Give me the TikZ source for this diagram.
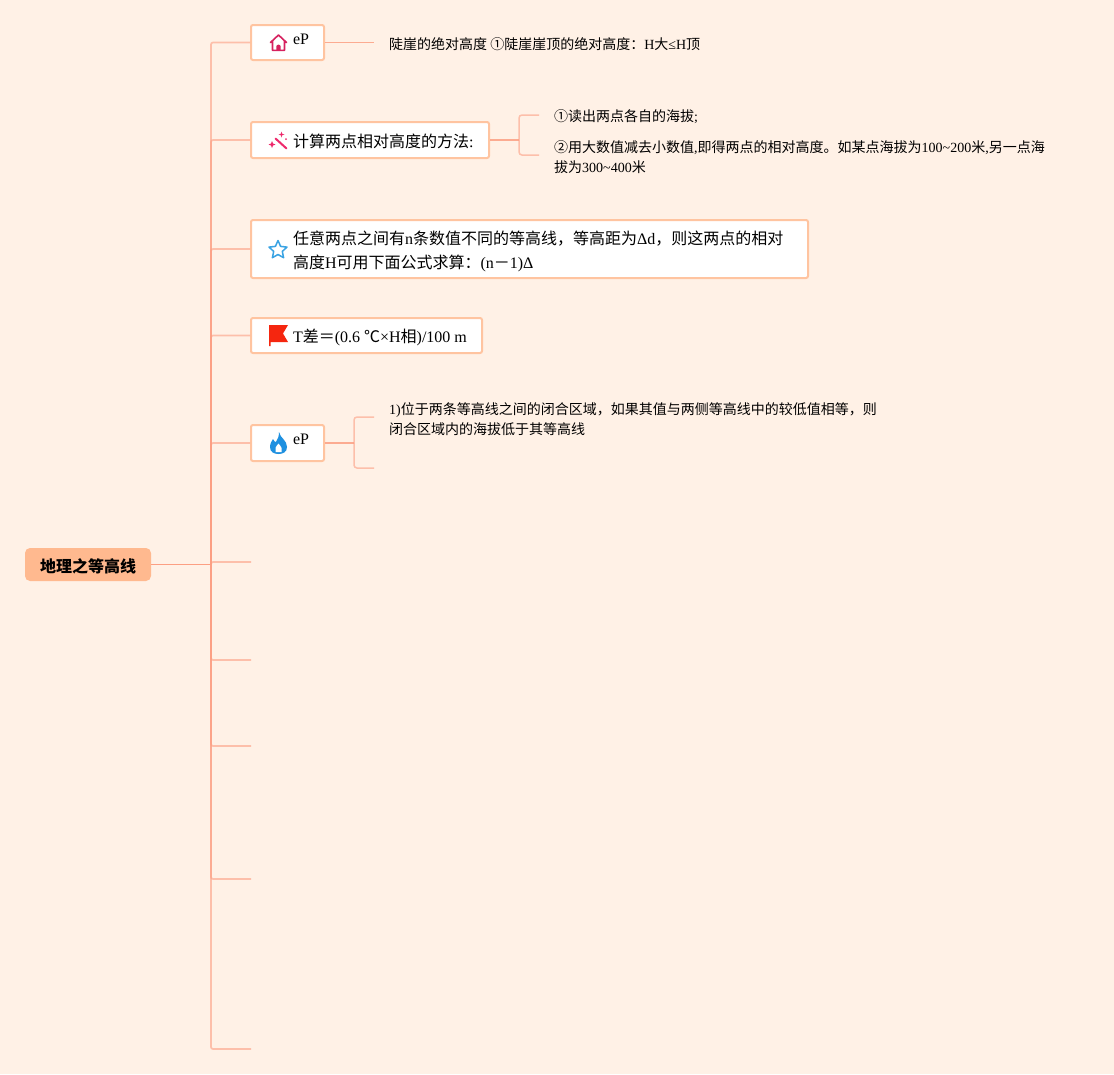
\documentclass[tikz,border=0pt]{standalone}
\usepackage{fontspec}
\setmainfont{Liberation Serif}
\newfontfamily\cjk{Noto Sans CJK SC}
\newcommand{\cn}[1]{{\cjk #1}}
\usepackage{tikz}
\usetikzlibrary{positioning}
\definecolor{pagebg}{HTML}{FFF1E6}
\definecolor{rootfill}{HTML}{FFB98F}
\definecolor{boxedge}{HTML}{FFC4A0}
\definecolor{linkcol}{HTML}{FC9F83}
\definecolor{housecol}{HTML}{D6215F}
\definecolor{wandcol}{HTML}{EE2A6C}
\definecolor{starcol}{HTML}{3AA3E3}
\definecolor{flagcol}{HTML}{F5260F}
\definecolor{firecol}{HTML}{1E90E0}
\tikzset{
  rootbox/.style={fill=rootfill, rounded corners=5pt, minimum width=126pt, minimum height=33pt, inner sep=0pt, font=\fontsize{16}{20}\selectfont},
  branchbox/.style={draw=boxedge, fill=white, line width=2pt, rounded corners=2pt, inner xsep=0pt, inner ysep=0pt, align=left, font=\fontsize{16}{24}\selectfont},
  leaftext/.style={anchor=west, inner sep=0pt, align=left, font=\fontsize{14}{20}\selectfont},
  rootlink/.style={draw=linkcol, line width=1pt},
  trunklink/.style={draw=linkcol, draw opacity=.6, line width=1.7pt, rounded corners=2pt},
  sublink/.style={draw=linkcol, draw opacity=.6, line width=1.5pt, rounded corners=3pt},
  substem/.style={draw=linkcol, draw opacity=.85, line width=1.5pt},
}
\begin{document}
\begin{tikzpicture}[x=1pt, y=-1pt]
    \fill[pagebg] (0,0) rectangle (1114,1074);
    \useasboundingbox (0,0) rectangle (1114,1074);

    \node (root) [rootbox] at (88,564.5) {\rule{0pt}{18pt}\textbf{\cn{地理之等高线}}};
    \coordinate (join) at (211,564.5);

    \node (peak) [branchbox, text width=73pt, minimum height=35pt] at (287.5,42.5) {\hspace*{42pt}\raisebox{7pt}{eP}};
    \node (method) [branchbox, text width=238pt, minimum height=36pt] at (370,140) {\rule{0pt}{16pt}\hspace*{42pt}\cn{计算两点相对高度的方法}:};
    \node (formula) [branchbox, text width=557pt, minimum height=58pt] at (529.5,249) {\rule{0pt}{18pt}\hspace*{42pt}\cn{任意两点之间有}n\cn{条数值不同的等高线，等高距为}Δd\cn{，则这两点的相对}\\\hspace*{42pt}\cn{高度}H\cn{可用下面公式求算：}(n\cn{－}1)Δ};
    \node (temp) [branchbox, text width=231pt, minimum height=35pt] at (366.5,335.5) {\rule{0pt}{18pt}\hspace*{42pt}T\cn{差＝}(0.6\kern4pt\cn{℃}×H\cn{相})/100\kern4pt m};
    \node (closed) [branchbox, text width=73pt, minimum height=36pt] at (287.5,443) {\hspace*{42pt}\raisebox{8pt}{eP}};

    \coordinate (blanka) at (251,562);
    \coordinate (blankb) at (251,660);
    \coordinate (blankc) at (251,746);
    \coordinate (blankd) at (251,879);
    \coordinate (blanke) at (251,1049);

    \draw[rootlink] (root.east) -- (join);
    \draw[trunklink] (join) |- (peak.west);
    \draw[trunklink] (join) |- (method.west);
    \draw[trunklink] (join) |- (formula.west);
    \draw[trunklink] (join) |- (temp.west);
    \draw[trunklink] (join) |- (closed.west);
    \draw[trunklink] (join) |- (blanka);
    \draw[trunklink] (join) |- (blankb);
    \draw[trunklink] (join) |- (blankc);
    \draw[trunklink] (join) |- (blankd);
    \draw[trunklink] (join) |- (blanke);

    \node (peaktext) [leaftext] at (389,44) {\cn{陡崖的绝对高度 ①陡崖崖顶的绝对高度：}H\cn{大}≤H\cn{顶}};
    \coordinate (peakend) at (374,42.5);
    \draw[substem, line width=1pt] (peak.east) -- (peakend);

    \node (readtext) [leaftext] at (554,117) {\cn{①读出两点各自的海拔}\raisebox{0pt}{;}};
    \node (subtext) [leaftext] at (554,156.7) {\cn{②用大数值减去小数值},\cn{即得两点的相对高度。如某点海拔为}100\textasciitilde200\cn{米},\cn{另一点海}\\\cn{拔为}300\textasciitilde400\cn{米}};
    \coordinate (methodjoin) at (519,140);
    \coordinate (readend) at (539,115);
    \coordinate (subend) at (539,155);
    \draw[substem] (method.east) -- (methodjoin);
    \draw[sublink] (methodjoin) |- (readend);
    \draw[sublink] (methodjoin) |- (subend);

    \node (closedtext) [leaftext] at (389,419) {1)\cn{位于两条等高线之间的闭合区域，如果其值与两侧等高线中的较低值相等，则}\\\cn{闭合区域内的海拔低于其等高线}};
    \coordinate (closedjoin) at (354,443);
    \coordinate (closedup) at (374,417);
    \coordinate (closeddown) at (374,468);
    \draw[substem] (closed.east) -- (closedjoin);
    \draw[sublink] (closedjoin) |- (closedup);
    \draw[sublink] (closedjoin) |- (closeddown);

    % icons
    \draw[housecol, line width=1.6pt, line join=round, line cap=round] (270.5,42.5) -- (278.5,35) -- (286.5,42.5) (272.5,41) -- (272.5,50.3) -- (284.5,50.3) -- (284.5,41);
    \fill[housecol] (276.3,50) -- (276.3,46.5) .. controls (276.3,44) and (280.7,44) .. (280.7,46.5) -- (280.7,50) -- cycle;
    \draw[wandcol, line width=2pt, line cap=round] (275.5,138.5) -- (286.5,148.5);
    \fill[wandcol] (272,141) -- (273,143.5) -- (275.5,144.5) -- (273,145.5) -- (272,148) -- (271,145.5) -- (268.5,144.5) -- (271,143.5) -- cycle;
    \fill[wandcol] (281.5,131.5) -- (282.2,133.8) -- (284.5,134.5) -- (282.2,135.2) -- (281.5,137.5) -- (280.8,135.2) -- (278.5,134.5) -- (280.8,133.8) -- cycle;
    \fill[wandcol] (286,139) circle (1pt);
    \draw[starcol, line width=1.5pt, line join=round] (278,240.5) -- (280.6,246.4) -- (287,247.1) -- (282.3,251.4) -- (283.6,257.7) -- (278,254.5) -- (272.4,257.7) -- (273.7,251.4) -- (269,247.1) -- (275.4,246.4) -- cycle;
    \fill[flagcol] (269,325) -- (288,325) -- (283,333.5) -- (288,342) -- (270.5,342) -- (270.5,346) -- (269,346) -- cycle;
    \fill[firecol] (279,432) .. controls (280,438) and (287,440) .. (287,447) .. controls (287,452) and (283,454) .. (278.5,454) .. controls (274,454) and (270,452) .. (270,447) .. controls (270,443) and (272,441) .. (273,439) .. controls (274,441) and (275,442) .. (276,442) .. controls (278,439) and (279,436) .. (279,432) -- cycle;
    \fill[white] (278.5,443.5) .. controls (281,446.5) and (283,449) .. (281.5,452) -- (275.5,452) .. controls (274,449) and (276,446.5) .. (278.5,443.5) -- cycle;
\end{tikzpicture}
\end{document}
